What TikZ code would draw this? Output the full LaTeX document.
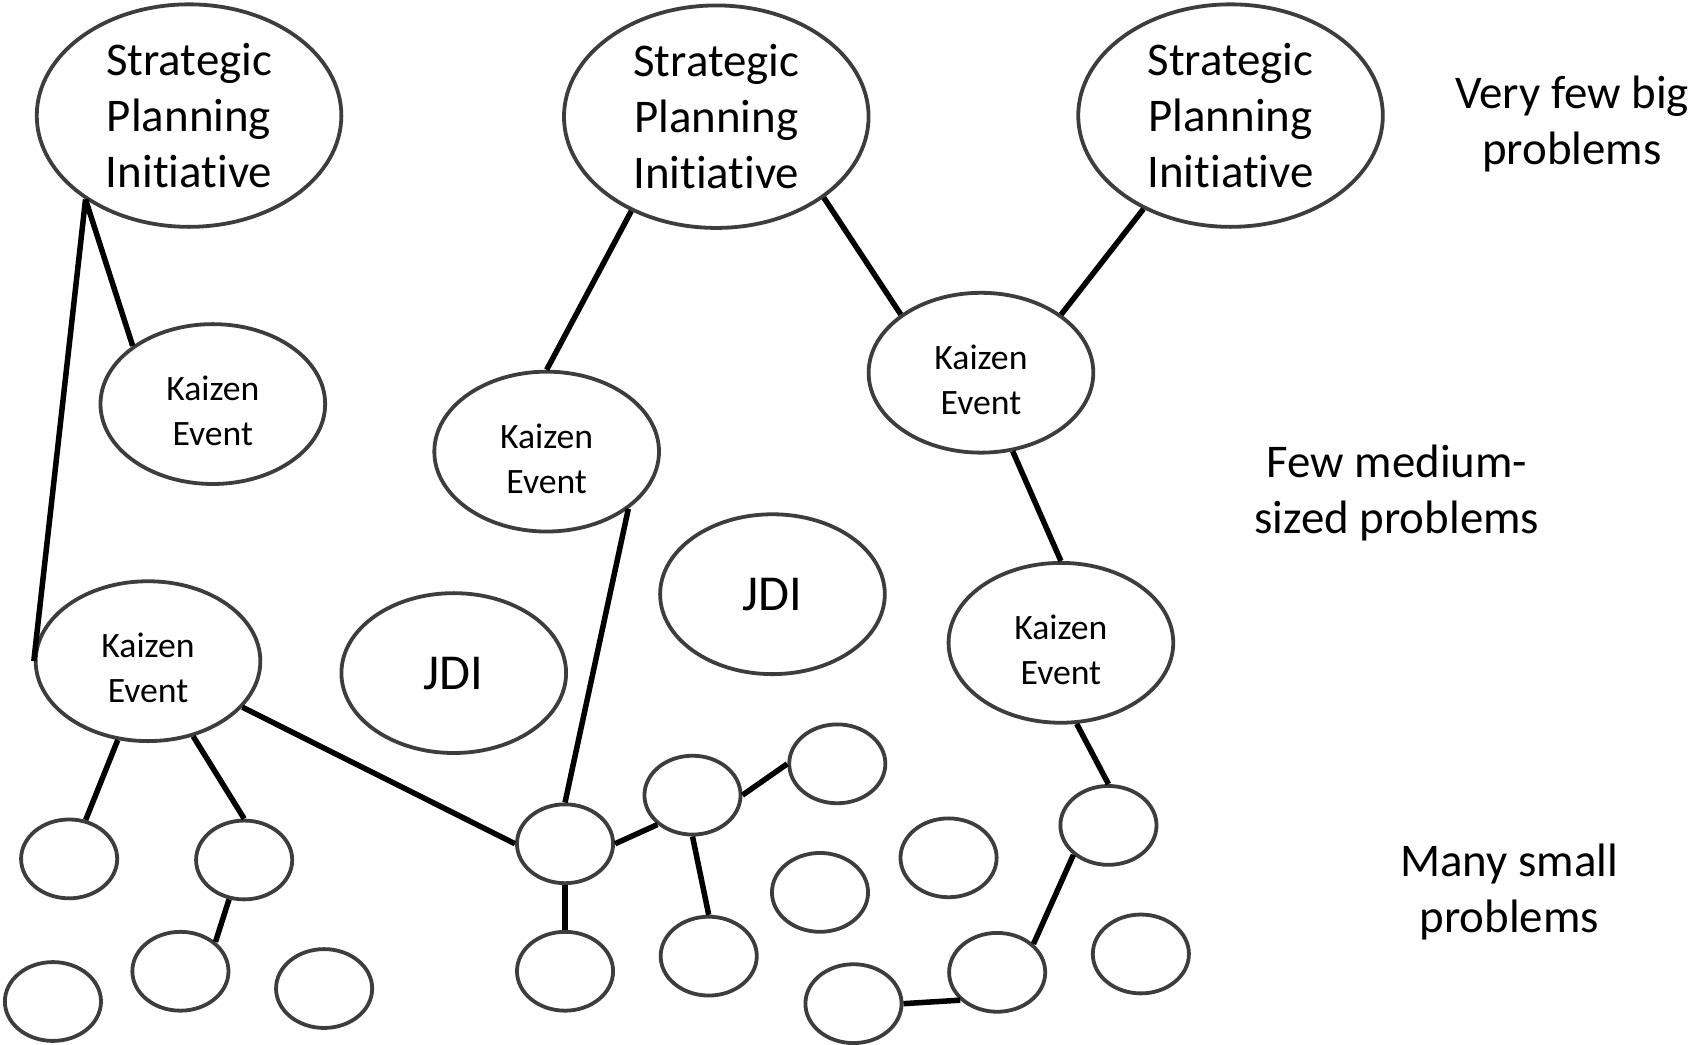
\documentclass[tikz,border=0pt]{standalone}
\usepackage{fontspec}
\setmainfont{Carlito}[RawFeature={-liga}]
\usetikzlibrary{shapes.geometric}

\tikzset{
  bubble/.style={ellipse, draw=black!76, line width=2pt, inner sep=0pt,
                 align=center, fill=white},
  spi/.style={bubble, minimum width=5.64cm, minimum height=4.12cm,
              font=\fontsize{24.7}{29.6}\selectfont},
  kaizen/.style={bubble, minimum width=4.16cm, minimum height=2.96cm,
                 label={[ktext]center:{Kaizen\\Event}}},
  ktext/.style={align=center, yshift=-0.13cm,
                font=\fontsize{18.8}{23.8}\selectfont},
  jdi/.style={bubble, minimum width=4.16cm, minimum height=2.96cm,
              font=\fontsize{26.5}{30}\selectfont},
  small/.style={bubble, minimum width=1.78cm, minimum height=1.46cm},
  level/.style={align=center, font=\fontsize{24.7}{29.6}\selectfont},
  link/.style={line width=2.9pt, black}
}

\begin{document}
\begin{tikzpicture}[x=0.02cm, y=-0.02cm]
  \useasboundingbox[fill=white] (0,0) rectangle (1568,967);

  % strategic planning initiatives
  \node[spi] (spi1) at (175,107)  {Strategic\\Planning\\Initiative};
  \node[spi] (spi2) at (663,108)  {Strategic\\Planning\\Initiative};
  \node[spi] (spi3) at (1139,107) {Strategic\\Planning\\Initiative};

  % kaizen events (text comes from the kaizen style)
  \node[kaizen] (k1) at (197,374) {};
  \node[kaizen] (k2) at (506,418) {};
  \node[kaizen] (k3) at (908,345) {};
  \node[kaizen] (k4) at (982,595) {};
  \node[kaizen] (k5) at (137,612) {};

  % just-do-it items
  \node[jdi] (jdi1) at (420,623) {JDI};
  \node[jdi] (jdi2) at (715,550) {JDI};

  % small problems
  \node[small] (s1)  at (64,795)   {};
  \node[small] (s2)  at (226,796)  {};
  \node[small] (s3)  at (167,899)  {};
  \node[small] (s4)  at (49,927)   {};
  \node[small] (s5)  at (300,915)  {};
  \node[small] (hub) at (523,781)  {};
  \node[small] (s7)  at (641,736)  {};
  \node[small] (s8)  at (775,707)  {};
  \node[small] (s9)  at (523,899)  {};
  \node[small] (s10) at (656,885)  {};
  \node[small] (s11) at (759,826)  {};
  \node[small] (s12) at (878,794)  {};
  \node[small] (s13) at (790,929)  {};
  \node[small] (s14) at (923,900)  {};
  \node[small] (s15) at (1026,764) {};
  \node[small] (s16) at (1056,883) {};

  % level labels
  \node[level] (big)    at (1455,115) {Very few big\\problems};
  \node[level] (medium) at (1293,456) {Few medium-\\sized problems};
  \node[level] (many)   at (1397,826) {Many small\\problems};

  % connections
  \draw[link] (spi1.219) -- (k1.144);
  \draw[link] (spi1.219) -- (k5.west);
  \draw[link] (spi2.228) -- (k2.north);
  \draw[link] (spi2.323) -- (k3.144);
  \draw[link] (spi3.227) -- (k3.36);
  \draw[link] (k3.292) -- (k4.north);
  \draw[link] (k4.281) -- (s15.north);
  \draw[link] (s15.220) -- (s14.38);
  \draw[link] (s14.217) -- (s13.east);
  \draw[link] (k5.249) -- (s1.67);
  \draw[link] (k5.301) -- (s2.north);
  \draw[link] (s2.249) -- (s3.40);
  \draw[link] (k5.334) -- (hub.west);
  \draw[link] (k2.325) -- (hub.north);
  \draw[link] (hub.south) -- (s9.north);
  \draw[link] (hub.east) -- (s7.220);
  \draw[link] (s7.east) -- (s8.west);
  \draw[link] (s7.south) -- (s10.north);
\end{tikzpicture}
\end{document}
